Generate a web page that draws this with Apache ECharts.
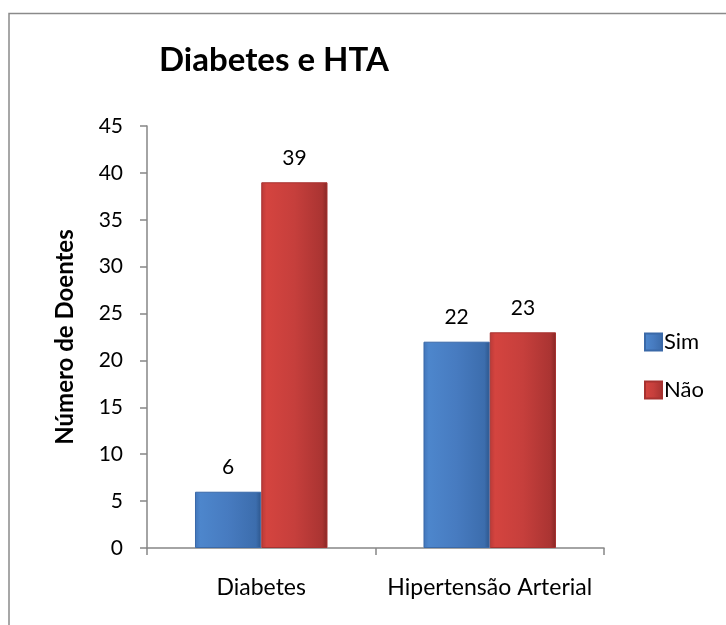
<!DOCTYPE html>
<html>
<head>
<meta charset="utf-8">
<script src="https://cdn.jsdelivr.net/npm/echarts@6/dist/echarts.min.js"></script>
<style>
  html, body { margin: 0; padding: 0; background: #fff; }
  #chart { width: 726px; height: 625px; }
</style>
</head>
<body>
<div id="chart"></div>
<script>
// Chart data
const categories = ['Diabetes', 'Hipertensão Arterial'];
const simValues = [6, 22];
const naoValues = [39, 23];
const seriesNames = ['Sim', 'Não'];

const FONT = 'Lato, "Open Sans", sans-serif';

// Bevelled-looking fills built from horizontal gradients
const blueFill = new echarts.graphic.LinearGradient(0, 0, 1, 0, [
  { offset: 0, color: '#4175b9' },
  { offset: 0.08, color: '#4d86cc' },
  { offset: 0.5, color: '#477bc0' },
  { offset: 0.92, color: '#3c6dad' },
  { offset: 1, color: '#2d568c' }
]);
const redFill = new echarts.graphic.LinearGradient(0, 0, 1, 0, [
  { offset: 0, color: '#b93a38' },
  { offset: 0.08, color: '#d4443f' },
  { offset: 0.5, color: '#c63f3c' },
  { offset: 0.92, color: '#aa3432' },
  { offset: 1, color: '#862725' }
]);

const labelStyle = {
  show: true,
  position: 'top',
  distance: 14,
  fontFamily: FONT,
  fontSize: 21,
  color: '#000'
};

const chart = echarts.init(document.getElementById('chart'));
chart.setOption({
  backgroundColor: '#fff',
  animation: false,
  title: {
    text: 'Diabetes e HTA',
    left: 159,
    top: 44,
    padding: 0,
    textStyle: { fontFamily: FONT, fontWeight: 'bold', fontSize: 33, color: '#000' }
  },
  legend: {
    orient: 'vertical',
    left: 644,
    top: 330,
    padding: 0,
    itemWidth: 17,
    itemHeight: 17,
    itemGap: 24,
    icon: 'rect',
    textStyle: { fontFamily: FONT, fontSize: 22, color: '#000', lineHeight: 24, padding: [0, 0, 0, -3] },
    data: seriesNames
  },
  grid: { left: 147, right: 122, top: 126, bottom: 77 },
  xAxis: {
    type: 'category',
    data: categories,
    axisLine: { lineStyle: { color: '#868686', width: 1.5 } },
    axisTick: { show: true, length: 7, alignWithLabel: false, lineStyle: { color: '#868686', width: 1.5 } },
    axisLabel: { interval: 0, hideOverlap: false, fontFamily: FONT, fontSize: 23, color: '#000', margin: 28 }
  },
  yAxis: {
    type: 'value',
    min: 0,
    max: 45,
    interval: 5,
    name: 'Número de Doentes',
    nameLocation: 'middle',
    nameGap: 70,
    nameRotate: 90,
    nameTextStyle: { fontFamily: FONT, fontWeight: 'bold', fontSize: 24, color: '#000' },
    axisLine: { show: true, lineStyle: { color: '#868686', width: 1.5 } },
    axisTick: { show: true, length: 7, lineStyle: { color: '#868686', width: 1.5 } },
    splitLine: { show: false },
    axisLabel: { fontFamily: FONT, fontSize: 21, color: '#000', margin: 24 }
  },
  series: [
    {
      name: seriesNames[0],
      type: 'bar',
      data: simValues,
      barGap: '0%',
      barCategoryGap: '42%',
      itemStyle: { color: blueFill, borderColor: '#3a69a8', borderWidth: 1 },
      label: labelStyle
    },
    {
      name: seriesNames[1],
      type: 'bar',
      data: naoValues,
      barGap: '0%',
      barCategoryGap: '42%',
      itemStyle: { color: redFill, borderColor: '#a73230', borderWidth: 1 },
      label: labelStyle
    }
  ],
  graphic: [
    {
      type: 'rect',
      shape: { x: 9, y: 13.5, width: 760, height: 660 },
      style: { fill: 'none', stroke: '#8a8a8a', lineWidth: 1.5 },
      silent: true,
      z: 100
    }
  ]
});
</script>
</body>
</html>
